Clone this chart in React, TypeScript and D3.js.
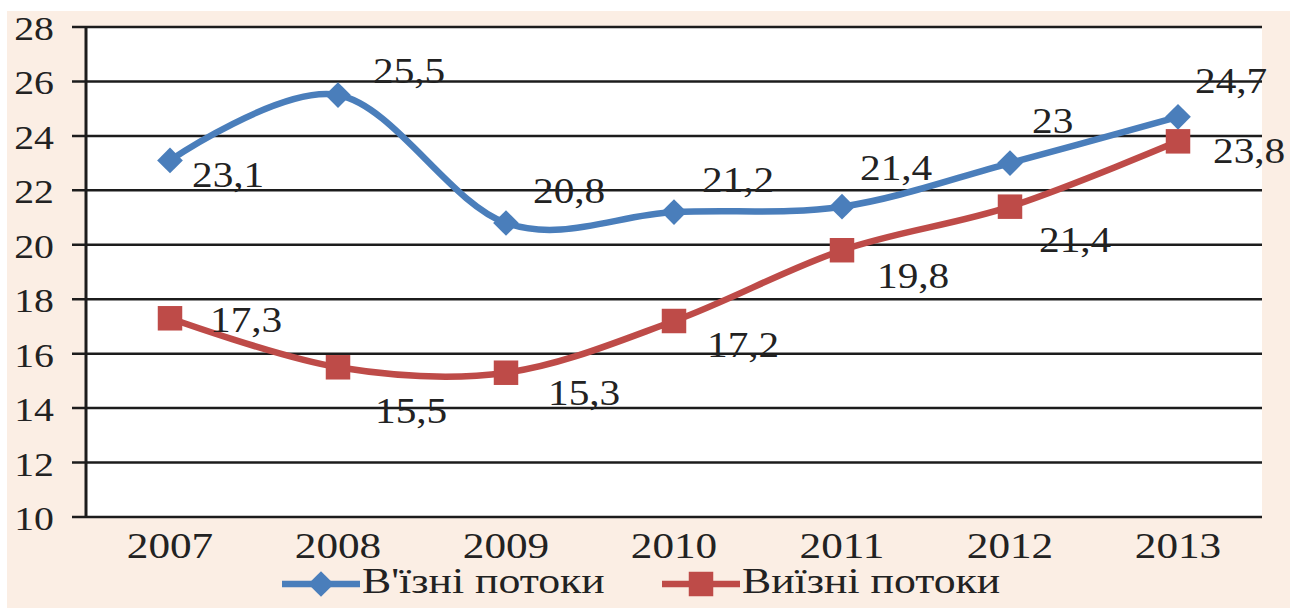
import { useEffect, useRef } from "react";
import * as d3 from "d3";

const years = ["2007", "2008", "2009", "2010", "2011", "2012", "2013"];
const inbound = [23.1, 25.5, 20.8, 21.2, 21.4, 23, 24.7];
const outbound = [17.3, 15.5, 15.3, 17.2, 19.8, 21.4, 23.8];
const yTicks = [10, 12, 14, 16, 18, 20, 22, 24, 26, 28];
const seriesNames = ["В'їзні потоки", "Виїзні потоки"];

// where each value label sits relative to its point (left edge, baseline)
const inboundLabelOffsets = [[22, 27], [35, -12], [27, -20], [28, -20], [18, -27], [22, -30], [17, -24]];
const outboundLabelOffsets = [[40, 14], [37, 56], [42, 32], [33, 36], [35, 38], [29, 45], [35, 22]];

const BLUE = "#4A7EBB";
const RED = "#BE4B48";
const INK = "#222";
const FONT = "Liberation Serif, Tinos, Times New Roman, DejaVu Serif, serif";

export default function App() {
  const svgRef = useRef<SVGSVGElement>(null);
  const width = 1300;
  const height = 608;

  useEffect(() => {
    if (!svgRef.current) return;
    const svg = d3.select(svgRef.current);
    svg.selectAll("*").remove();

    const plot = { left: 86, right: 1262, top: 27, bottom: 517 };

    const x = d3.scalePoint<string>().domain(years).range([plot.left, plot.right]).padding(0.5);
    const y = d3.scaleLinear().domain([10, 28]).range([plot.bottom, plot.top]);

    // stretched serif text, like the source image
    const addText = (
      parent: d3.Selection<any, unknown, null, undefined>,
      tx: number,
      ty: number,
      str: string,
      size: number,
      sx: number,
      anchor = "start"
    ) =>
      parent
        .append("text")
        .attr("transform", `translate(${tx},${ty}) scale(${sx},1)`)
        .attr("text-anchor", anchor)
        .attr("font-family", FONT)
        .attr("font-size", size)
        .attr("fill", INK)
        .text(str);

    // backgrounds
    svg.append("rect").attr("width", width).attr("height", height).attr("fill", "#fff");
    svg.append("rect").attr("x", 7).attr("y", 11).attr("width", 1283).attr("height", height - 11).attr("fill", "#FBEEE4");
    svg
      .append("rect")
      .attr("x", plot.left)
      .attr("y", plot.top)
      .attr("width", plot.right - plot.left)
      .attr("height", plot.bottom - plot.top)
      .attr("fill", "#fff");

    // gridlines + ticks
    svg
      .append("g")
      .selectAll("line")
      .data(yTicks)
      .join("line")
      .attr("x1", plot.left - 14)
      .attr("x2", plot.right)
      .attr("y1", (d) => y(d))
      .attr("y2", (d) => y(d))
      .attr("stroke", "#1c1c1c")
      .attr("stroke-width", 2.5);

    svg
      .append("line")
      .attr("x1", plot.left)
      .attr("x2", plot.left)
      .attr("y1", plot.top)
      .attr("y2", plot.bottom)
      .attr("stroke", "#1c1c1c")
      .attr("stroke-width", 3);

    yTicks.forEach((t) => addText(svg, 54, y(t) + 13, String(t), 34, 1.17, "end"));
    years.forEach((yr) => addText(svg, x(yr)!, 558, yr, 36, 1.2, "middle"));

    // series
    const line = d3
      .line<number>()
      .x((_, i) => x(years[i])!)
      .y((d) => y(d))
      .curve(d3.curveCardinal.tension(0));

    const diamond = d3.symbol().type(d3.symbolSquare).size(330);
    const square = d3.symbol().type(d3.symbolSquare).size(600);

    const series = [
      { values: inbound, color: BLUE, offsets: inboundLabelOffsets, marker: diamond, rotate: 45 },
      { values: outbound, color: RED, offsets: outboundLabelOffsets, marker: square, rotate: 0 },
    ];

    series.forEach((s) => {
      svg
        .append("path")
        .datum(s.values)
        .attr("fill", "none")
        .attr("stroke", s.color)
        .attr("stroke-width", 6.5)
        .attr("stroke-linejoin", "round")
        .attr("d", line);

      svg
        .append("g")
        .selectAll("path")
        .data(s.values)
        .join("path")
        .attr("d", s.marker)
        .attr("fill", s.color)
        .attr("transform", (d, i) => `translate(${x(years[i])},${y(d)}) rotate(${s.rotate})`);
    });

    // value labels on top
    series.forEach((s) => {
      s.values.forEach((v, i) => {
        const [dx, dy] = s.offsets[i];
        addText(svg, x(years[i])! + dx, y(v) + dy, String(v).replace(".", ","), 35, 1.18);
      });
    });

    // legend
    const legendItems = [
      { name: seriesNames[0], color: BLUE, marker: diamond, rotate: 45, x0: 282 },
      { name: seriesNames[1], color: RED, marker: square, rotate: 0, x0: 662 },
    ];
    legendItems.forEach((it) => {
      const lg = svg.append("g").attr("transform", `translate(${it.x0},584)`);
      lg.append("line").attr("x1", 0).attr("x2", 78).attr("stroke", it.color).attr("stroke-width", 6.5);
      lg.append("path")
        .attr("d", it.marker)
        .attr("fill", it.color)
        .attr("transform", `translate(39,0) rotate(${it.rotate})`);
      addText(svg, it.x0 + 80, 593, it.name, 35, 1.25);
    });
  }, []);

  return (
    <svg
      ref={svgRef}
      width={width}
      height={height}
      style={{ position: "absolute", left: 0, top: 0, display: "block" }}
    />
  );
}
